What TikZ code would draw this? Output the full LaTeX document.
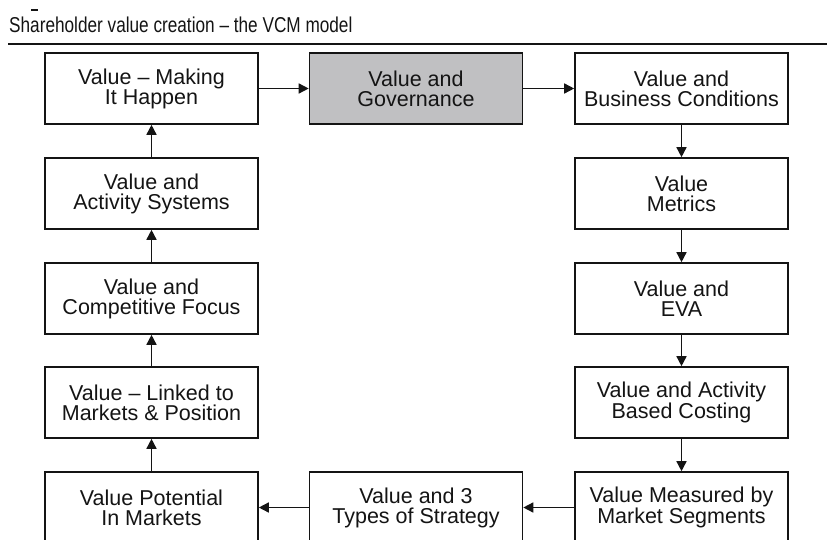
\documentclass[tikz,border=0pt]{standalone}
\usepackage{fontspec}
\setmainfont{Liberation Sans}
\newfontfamily\titlefont[FakeStretch=0.8]{Liberation Sans}
\usetikzlibrary{arrows.meta}
\definecolor{boxgray}{RGB}{192,192,194}
\definecolor{inkblack}{RGB}{20,20,20}
\tikzset{
  vbox/.style={draw=inkblack, line width=1.6pt, minimum width=213pt, minimum height=71pt,
    inner sep=0pt, align=center, text=inkblack,
    font=\fontsize{21.5}{20}\selectfont},
  vboxgray/.style={vbox, fill=boxgray},
  flow/.style={draw=inkblack, line width=1.5pt, -{Triangle[length=10pt,width=10pt]}}
}
\begin{document}
\begin{tikzpicture}[x=1pt,y=-1pt]
  \useasboundingbox (0,0) rectangle (827,540);
  % heading and rule
  \draw[inkblack, line width=1.2pt] (31,10) -- (38,10);
  \node[anchor=base west, inner sep=0pt, text=inkblack,
        font=\titlefont\fontsize{21.5}{23}\selectfont] (title) at (9,33)
        {Shareholder value creation – the VCM model};
  \draw[inkblack, line width=1.8pt] (8,44) -- (827,44);

  % top row
  \node[vbox]     (make)  at (151.5,88.5) {Value – Making\\It Happen};
  \node[vboxgray] (gov)   at (416,88.5)   {Value and\\Governance};
  \node[vbox]     (bus)   at (681.5,88.5) {Value and\\Business Conditions};

  % right column
  \node[vbox] (metrics) at (681.5,193.5) {Value\\Metrics};
  \node[vbox] (eva)     at (681.5,298.5) {Value and\\EVA};
  \node[vbox] (abc)     at (681.5,402.5) {Value and Activity\\Based Costing};
  \node[vbox] (seg)     at (681.5,507.5) {Value Measured by\\Market Segments};

  % bottom row
  \node[vbox] (strat)   at (416,507.5)   {Value and 3\\Types of Strategy};
  \node[vbox] (pot)     at (151.5,507.5) {Value Potential\\In Markets};

  % left column
  \node[vbox] (linked)  at (151.5,402.5) {Value – Linked to\\Markets \& Position};
  \node[vbox] (focus)   at (151.5,298.5) {Value and\\Competitive Focus};
  \node[vbox] (act)     at (151.5,193.5) {Value and\\Activity Systems};

  % flow around the cycle
  \draw[flow] (make) -- (gov);
  \draw[flow] (gov) -- (bus);
  \draw[flow] (bus) -- (metrics);
  \draw[flow] (metrics) -- (eva);
  \draw[flow] (eva) -- (abc);
  \draw[flow] (abc) -- (seg);
  \draw[flow] (seg) -- (strat);
  \draw[flow] (strat) -- (pot);
  \draw[flow] (pot) -- (linked);
  \draw[flow] (linked) -- (focus);
  \draw[flow] (focus) -- (act);
  \draw[flow] (act) -- (make);
\end{tikzpicture}
\end{document}
